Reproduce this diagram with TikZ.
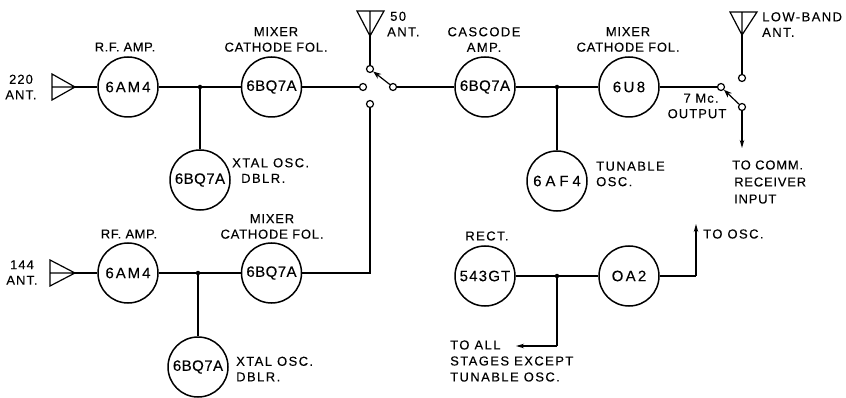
\documentclass[tikz,border=0pt]{standalone}
\usepackage{fontspec}
\setmainfont[FakeBold=0.2]{Liberation Sans}
\usetikzlibrary{arrows.meta}
\tikzset{
  tube/.style={circle,draw,line width=1.5pt,minimum size=60pt,inner sep=0pt,font=\fontsize{15}{15}\selectfont\addfontfeatures{LetterSpace=#1}},
  tube/.default=3,
  wire/.style={line width=1.2pt},
  term/.style={circle,draw,line width=1.2pt,minimum size=7pt,inner sep=0pt,fill=white},
  dotn/.style={circle,fill=black,minimum size=4.5pt,inner sep=0pt},
  lab/.style={font=\fontsize{13}{15.5}\selectfont\addfontfeatures{LetterSpace=#1},align=center,inner sep=0pt},
  lab/.default=11,
  labl/.style={lab=#1,align=left,anchor=west},
  labl/.default=11,
  swarrow/.style={wire,-{Stealth[length=8pt,width=6pt]}},
  downarrow/.style={wire,-{Stealth[length=8pt,width=4.5pt]}}
}
\begin{document}
\begin{tikzpicture}[x=1pt,y=-1pt]
\useasboundingbox (0,0) rectangle (846,398);
% tubes
\node[tube=13] (am1) at (128,87) {6AM4};
\node[tube] (mx1) at (271.5,87) {6BQ7A};
\node[tube] (xt1) at (200,180) {6BQ7A};
\node[tube] (cas) at (485,87) {6BQ7A};
\node[tube=16] (u8) at (629,87) {6U8};
\node[tube=26] (af4) at (557,181) {6AF4};
\node[tube=13] (am2) at (128,273) {6AM4};
\node[tube] (mx2) at (271.5,273) {6BQ7A};
\node[tube] (xt2) at (198,367) {6BQ7A};
\node[tube=8] (rec) at (485,276) {543GT};
\node[tube=15] (oa2) at (629,276) {OA2};
% junctions
\node[dotn] (j1) at (200,87) {};
\node[dotn] (j2) at (557,87) {};
\node[dotn] (j3) at (198,273) {};
\node[dotn] (j4) at (557,276) {};
% switch 1
\node[term] (s1t) at (370,69) {};
\node[term] (s1l) at (363,87) {};
\node[term] (s1r) at (393,87) {};
\node[term] (s1b) at (370,104) {};
% switch 2
\node[term] (s2t) at (742,78) {};
\node[term] (s2l) at (721,87) {};
\node[term] (s2r) at (742,107) {};
% coordinates
\coordinate (a1b) at (52,74); \coordinate (a1c) at (52,100); \coordinate (a1m) at (52,87); \coordinate (a1a) at (75,87);
\coordinate (a2b) at (50,260); \coordinate (a2c) at (50,286); \coordinate (a2m) at (50,273); \coordinate (a2a) at (75,273);
\coordinate (a3l) at (357,11); \coordinate (a3r) at (384,11); \coordinate (a3m) at (370,11); \coordinate (a3a) at (370,36);
\coordinate (a4l) at (730,12); \coordinate (a4r) at (757,12); \coordinate (a4m) at (742,12); \coordinate (a4a) at (742,35);
\coordinate (e1) at (742,148);
\coordinate (e2) at (516,346);
\coordinate (e3) at (696,224);
\coordinate (c1) at (370,273);
\coordinate (c2) at (557,346);
\coordinate (c3) at (696,276);
% antennas
\draw[wire] (a1b) -- (a1a) -- (a1c) -- cycle (a1m) -- (a1a);
\draw[wire] (a2b) -- (a2a) -- (a2c) -- cycle (a2m) -- (a2a);
\draw[wire] (a3l) -- (a3a) -- (a3r) -- cycle (a3m) -- (a3a);
\draw[wire] (a4l) -- (a4a) -- (a4r) -- cycle (a4m) -- (a4a);
% wires
\draw[wire] (a1a) -- (am1);
\draw[wire] (a2a) -- (am2);
\draw[wire] (am1) -- (j1) -- (mx1);
\draw[wire] (j1) -- (xt1);
\draw[wire] (am2) -- (j3) -- (mx2);
\draw[wire] (j3) -- (xt2);
\draw[wire] (mx1) -- (s1l);
\draw[wire] (mx2) -- (c1) -- (s1b);
\draw[wire] (a3a) -- (s1t);
\draw[wire] (s1r) -- (cas);
\draw[wire] (cas) -- (j2) -- (u8);
\draw[wire] (j2) -- (af4);
\draw[wire] (u8) -- (s2l);
\draw[wire] (a4a) -- (s2t);
\draw[downarrow] (s2r) -- (e1);
\draw[swarrow] (s1r) -- (s1t);
\draw[swarrow] (s2r) -- (s2l);
\draw[wire] (rec) -- (j4) -- (oa2);
\draw[wire] (j4) -- (c2);
\draw[downarrow] (c2) -- (e2);
\draw[wire] (oa2) -- (c3);
\draw[downarrow] (c3) -- (e3);
% labels
\node[lab=8] at (21,87) {220\\ANT.};
\node[lab=8] at (22,272.5) {144\\ANT.};
\node[lab=4] at (125,47) {R.F. AMP.};
\node[lab=4] at (129,234) {RF. AMP.};
\node[lab=6] at (276,39.5) {MIXER\\CATHODE FOL.};
\node[lab=6] at (272,226.5) {MIXER\\CATHODE FOL.};
\node[labl] at (232,170.5) {XTAL OSC.\\\hspace*{9pt}DBLR.};
\node[labl] at (236,369) {XTAL OSC.\\DBLR.};
\node[labl] at (387,24) {\hspace*{3pt}50\\ANT.};
\node[lab] at (484,39.5) {CASCODE\\AMP.};
\node[lab=6] at (628,39.5) {MIXER\\CATHODE FOL.};
\node[labl] at (596,174) {TUNABLE\\OSC.};
\node[labl=11] at (762,24.5) {LOW-BAND\\ANT.};
\node[lab=8] at (697,106) {\hspace*{8pt}7 Mc.\\OUTPUT};
\node[labl,font=\fontsize{13}{17}\selectfont\addfontfeatures{LetterSpace=6}] at (732,182) {TO COMM.\\\hspace*{2pt}RECEIVER\\\hspace*{2pt}INPUT};
\node[lab] at (487,236) {RECT.};
\node[labl] at (703,234) {TO OSC.};
\node[labl,font=\fontsize{13}{16}\selectfont\addfontfeatures{LetterSpace=11}] at (450,361) {TO ALL\\STAGES EXCEPT\\TUNABLE OSC.};
\end{tikzpicture}
\end{document}
